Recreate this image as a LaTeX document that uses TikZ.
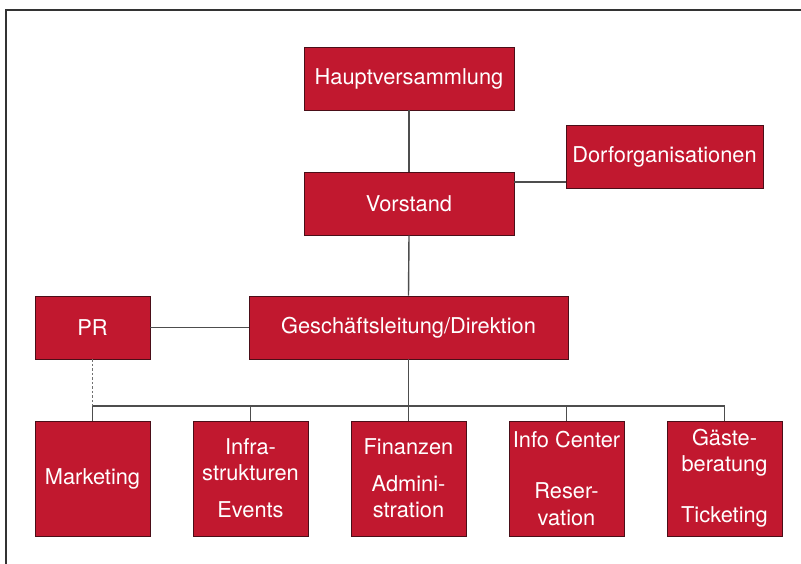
\documentclass[tikz,border=0pt]{standalone}
\usepackage{fontspec}
\setmainfont{TeX Gyre Heros}
\usetikzlibrary{positioning}
\definecolor{boxred}{HTML}{C1182F}
\definecolor{boxedge}{HTML}{4A0E18}
\definecolor{linegray}{HTML}{4D4D4D}
\tikzset{
  unit/.style={draw=boxedge, line width=0.6pt, fill=boxred, text=white, align=center,
    inner sep=0pt, font=\fontsize{15.5}{18.5}\selectfont},
  topbox/.style={unit, minimum width=5.25cm, minimum height=1.575cm},
  dept/.style={unit, minimum width=2.875cm, minimum height=2.875cm},
  link/.style={linegray, line width=1pt},
}
\begin{document}
\begin{tikzpicture}[x=0.025cm, y=-0.025cm]
    \useasboundingbox (0,0) rectangle (801,564);
    % Rahmen
    \draw[black!80, line width=1.1pt] (801,10) -- (6,10) -- (6,564);

    % Leitung
    \node[topbox] (hv) at (409,78.5) {Hauptversammlung};
    \node[topbox] (vor) at (409,203.5) {Vorstand};
    \node[unit, minimum width=4.925cm, minimum height=1.575cm] (dorf) at (664.5,156.5) {Dorforganisationen};
    \node[unit, minimum width=2.875cm, minimum height=1.575cm] (pr) at (92.5,327.5) {PR};
    \node[unit, minimum width=7.975cm, minimum height=1.575cm] (gl) at (408.5,327.5) {Geschäftsleitung/Direktion};

    % Abteilungen
    \node[dept] (mkt) at (92.5,478.5) {Marketing};
    \node[dept] (inf) at (250.5,478.5) {Infra-\\strukturen\\[7.8pt]Events};
    \node[dept] (fin) at (408.5,478.5) {Finanzen\\[7.8pt]Admini-\\stration};
    \node[dept] (info) at (566.5,478.5) {Info Center\\[17.8pt]Reser-\\vation};
    \node[dept] (gst) at (724.5,478.5) {Gäste-\\beratung\\[17.8pt]Ticketing};

    % Verbindungen
    \coordinate (bus) at (408.5,406);
    \draw[link] (hv.south) -- (vor.north);
    \draw[link] (vor.south) -- (gl.north);
    \draw[link] (vor.east |- 0,182) -- (dorf.west |- 0,182);
    \draw[link] (pr.east) -- (gl.west);
    \draw[link] (gl.south) -- (bus);
    \draw[link] (mkt.north |- bus) -- (gst.north |- bus);
    \foreach \n in {mkt,inf,fin,info,gst} {
        \draw[link] (\n.north |- bus) -- (\n.north);
    }
    \draw[linegray!80, line width=1pt, dash pattern=on 1.6pt off 1.6pt] (pr.south) -- (mkt.north |- bus);
\end{tikzpicture}
\end{document}
